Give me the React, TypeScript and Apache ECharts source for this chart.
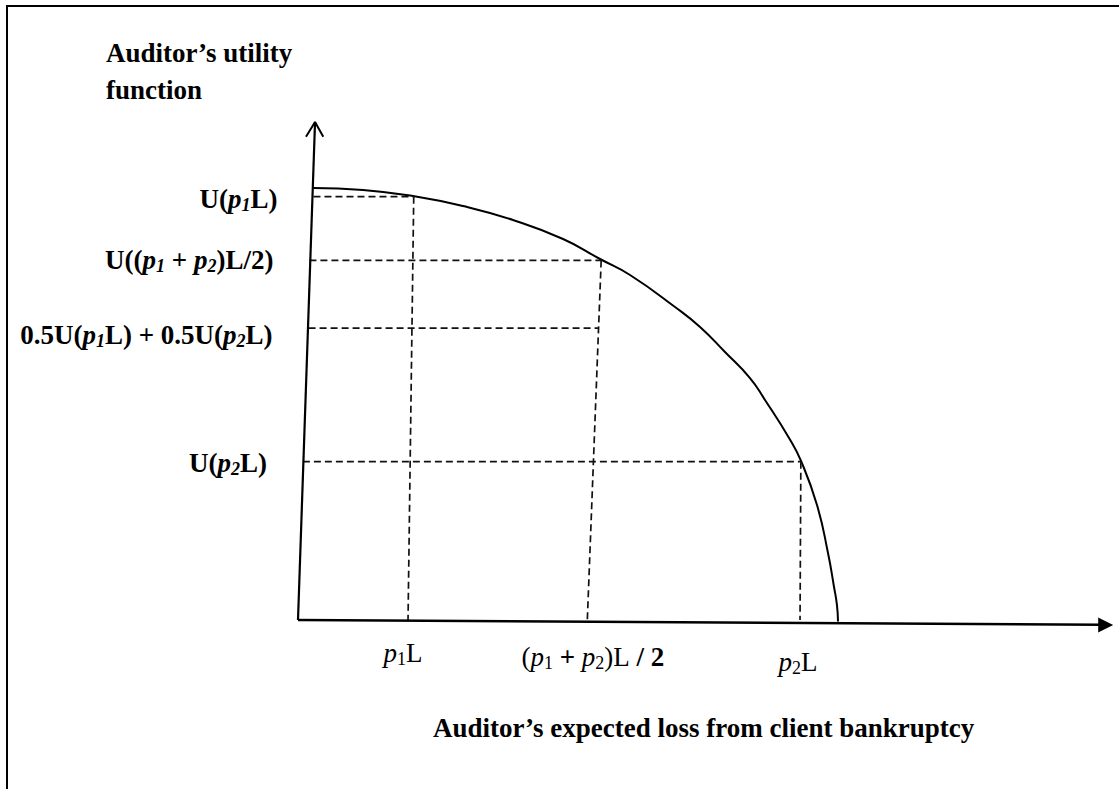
import React, { useEffect, useRef } from 'react';
import * as echarts from 'echarts';

// Curve (auditor's utility), abstract units 0..100
const curveX = [1.84, 7.98, 14.11, 20.25, 26.38, 32.52, 37.06, 40.74, 46.26, 49.33, 52.39, 55.46, 57.3, 60.25, 61.72, 63.68, 65.03, 65.77, 66.13, 66.26];
const curveY = [86.75, 86.35, 85.14, 83.13, 80.32, 76.51, 72.49, 69.28, 62.85, 58.84, 53.82, 48.59, 44.18, 36.55, 31.93, 23.09, 13.45, 6.63, 3.01, -0.3];

// Horizontal dashed guides: utility levels
const utilityLevels = [85.0, 72.2, 58.6, 31.8];
const hStartX = [1.9, 1.4, 1.3, 0.6];
const hEndX = [14.2, 37.2, 36.8, 61.7];

// Vertical dashed guides: loss levels
const vTopX = [14.2, 37.2, 61.7];
const vTopY = [85.0, 72.2, 31.8];
const vBottomX = [13.5, 35.5, 61.6];

// Axes (hand-drawn, slightly tilted)
const yAxisLineX = [0, 2.09];
const yAxisLineY = [0, 100];
const yArrowX = [0.98, 2.09, 3.1];
const yArrowY = [97.05, 100, 97.05];
const xAxisLineX = [0, 98.6];
const xAxisLineY = [0, -0.95];
const xArrowPos = [99.1, -1.0];

const yLabelTexts = [
  '{b|U(}{i|p}{s|1}{b|L)}',
  '{b|U((}{i|p}{s|1}{b| + }{i|p}{s|2}{b|)L/2)}',
  '{b|0.5U(}{i|p}{s|1}{b|L) + 0.5U(}{i|p}{s|2}{b|L)}',
  '{b|U(}{i|p}{s|2}{b|L)}',
];
const yLabelOffsetY = [2, 0, 7, 1];

const xLabelTexts = [
  '{i|p}{s|1}{r|L}',
  '{r|(}{i|p}{s|1}{b| + }{i|p}{s|2}{r|)L}{b| / 2}',
  '{i|p}{s|2}{r|L}',
];
const xLabelOffsets = [[-5, 33], [5.5, 37], [-2, 42]];

const yTitle = 'Auditor’s utility\nfunction';
const xTitle = 'Auditor’s expected loss from client bankruptcy';

const FONT = '"Liberation Serif", "Times New Roman", serif';

export default function App() {
  const ref = useRef<HTMLDivElement>(null);
  useEffect(() => {
    if (!ref.current) return;
    const chart = echarts.init(ref.current, undefined, { renderer: 'svg' });

    const yRich = {
      b: { fontFamily: FONT, fontWeight: 'bold', fontSize: 27, lineHeight: 30, color: '#000' },
      i: { fontFamily: FONT, fontWeight: 'bold', fontStyle: 'italic', fontSize: 27, lineHeight: 30, color: '#000' },
      s: { fontFamily: FONT, fontWeight: 'bold', fontStyle: 'italic', fontSize: 18, lineHeight: 18, verticalAlign: 'bottom', color: '#000' },
    };
    const xRich = {
      r: { fontFamily: FONT, fontWeight: 'normal', fontSize: 27, lineHeight: 30, color: '#000' },
      b: { fontFamily: FONT, fontWeight: 'bold', fontSize: 27, lineHeight: 30, color: '#000' },
      i: { fontFamily: FONT, fontWeight: 'normal', fontStyle: 'italic', fontSize: 27, lineHeight: 30, color: '#000' },
      s: { fontFamily: FONT, fontWeight: 'normal', fontSize: 18, lineHeight: 18, verticalAlign: 'bottom', color: '#000' },
    };

    const dashStyle = { color: '#111', width: 1.7, type: [7, 4] as number[] };
    const series: any[] = [];

    series.push({
      type: 'line',
      data: curveX.map((x, i) => [x, curveY[i]]),
      smooth: 0.5,
      showSymbol: false,
      symbol: 'none',
      clip: false,
      lineStyle: { color: '#000', width: 2 },
      silent: true,
    });

    utilityLevels.forEach((lv, i) => {
      series.push({
        type: 'line',
        data: [[hStartX[i], lv], [hEndX[i], lv]],
        symbol: 'none',
        clip: false,
        lineStyle: dashStyle,
        silent: true,
      });
    });

    vTopX.forEach((x, i) => {
      series.push({
        type: 'line',
        data: [[x, vTopY[i]], [vBottomX[i], 0]],
        symbol: 'none',
        clip: false,
        lineStyle: dashStyle,
        silent: true,
      });
    });

    series.push({
      type: 'line',
      data: yAxisLineX.map((x, i) => [x, yAxisLineY[i]]),
      symbol: 'none',
      clip: false,
      lineStyle: { color: '#000', width: 2.2 },
      silent: true,
    });
    series.push({
      type: 'line',
      data: yArrowX.map((x, i) => [x, yArrowY[i]]),
      symbol: 'none',
      clip: false,
      lineStyle: { color: '#000', width: 2 },
      silent: true,
    });
    series.push({
      type: 'line',
      data: xAxisLineX.map((x, i) => [x, xAxisLineY[i]]),
      symbol: 'none',
      clip: false,
      lineStyle: { color: '#000', width: 2.4 },
      silent: true,
    });
    series.push({
      type: 'scatter',
      data: [xArrowPos],
      symbol: 'triangle',
      symbolSize: [15, 15],
      symbolRotate: -90,
      itemStyle: { color: '#000', opacity: 1 },
      clip: false,
      silent: true,
    });

    series.push({
      type: 'scatter',
      symbolSize: 0,
      clip: false,
      silent: true,
      itemStyle: { opacity: 1 },
      data: utilityLevels.map((lv, i) => ({
        value: [hStartX[i], lv],
        label: {
          show: true,
          position: 'left',
          distance: 36,
          offset: [0, yLabelOffsetY[i]],
          formatter: yLabelTexts[i],
          color: '#000',
          opacity: 1,
          textBorderWidth: 0,
          rich: yRich,
        },
      })),
    });

    series.push({
      type: 'scatter',
      symbolSize: 0,
      clip: false,
      silent: true,
      itemStyle: { opacity: 1 },
      data: vBottomX.map((x, i) => ({
        value: [x, 0],
        label: {
          show: true,
          position: 'inside',
          offset: xLabelOffsets[i],
          formatter: xLabelTexts[i],
          color: '#000',
          opacity: 1,
          textBorderWidth: 0,
          rich: xRich,
        },
      })),
    });

    chart.setOption({
      animation: false,
      backgroundColor: '#fff',
      title: [
        {
          text: yTitle,
          left: 106,
          top: 34,
          padding: 0,
          textStyle: { fontFamily: FONT, fontWeight: 'bold', fontSize: 27, lineHeight: 37, color: '#000' },
        },
        {
          text: xTitle,
          left: 433,
          top: 713,
          padding: 0,
          textStyle: { fontFamily: FONT, fontWeight: 'bold', fontSize: 27, lineHeight: 30, color: '#000' },
        },
      ],
      grid: { left: 298, top: 122, width: 815, height: 498 },
      xAxis: { type: 'value', min: 0, max: 100, show: false },
      yAxis: { type: 'value', min: 0, max: 100, show: false },
      graphic: [
        { type: 'line', shape: { x1: 6, y1: 6, x2: 1119, y2: 6 }, style: { stroke: '#000', lineWidth: 2 } },
        { type: 'line', shape: { x1: 7, y1: 6, x2: 7, y2: 789 }, style: { stroke: '#000', lineWidth: 2 } },
      ],
      series,
    });

    return () => chart.dispose();
  }, []);

  return (
    <div
      ref={ref}
      style={{ position: 'fixed', left: 0, top: 0, width: 1119, height: 789, background: '#fff' }}
    />
  );
}
